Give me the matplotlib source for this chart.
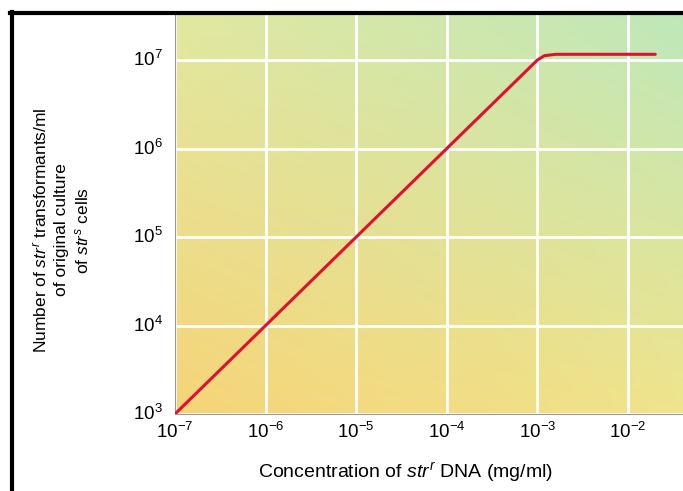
import numpy as np
import matplotlib
matplotlib.use('Agg')
import matplotlib.pyplot as plt
from matplotlib.lines import Line2D

plt.rcParams['font.family'] = ['Liberation Sans', 'DejaVu Sans']
plt.rcParams['mathtext.fontset'] = 'custom'
plt.rcParams['mathtext.rm'] = 'Liberation Sans'
plt.rcParams['mathtext.it'] = 'Liberation Sans:italic'

# concentration of str^r DNA (mg/ml) and transformants/ml
conc = [1e-7, 1e-6, 1e-5, 1e-4, 5e-4, 8e-4, 1.0e-3, 1.2e-3, 1.6e-3, 2e-2]
transf = [1e3, 1e4, 1e5, 1e6, 5e6, 8e6, 1.0e7, 1.12e7, 1.16e7, 1.16e7]

xticks = [1e-7, 1e-6, 1e-5, 1e-4, 1e-3, 1e-2]
xticklabels = ['$10^{-7}$', '$10^{-6}$', '$10^{-5}$', '$10^{-4}$', '$10^{-3}$', '$10^{-2}$']
yticks = [1e3, 1e4, 1e5, 1e6, 1e7]
yticklabels = ['$10^{3}$', '$10^{4}$', '$10^{5}$', '$10^{6}$', '$10^{7}$']

fig = plt.figure(figsize=(6.83, 4.91), dpi=100)
ax = fig.add_axes([175/683, 77/491, 508/683, 400/491])

# background gradient: corners (bottom-left, bottom-right, top-left, top-right)
bl = np.array([246, 212, 120]) / 255
br = np.array([240, 228, 140]) / 255
tl = np.array([226, 232, 160]) / 255
tr = np.array([190, 232, 186]) / 255
u = np.linspace(0, 1, 200)[None, :, None]
v = np.linspace(0, 1, 200)[:, None, None]
img = (1 - u) * (1 - v) * bl + u * (1 - v) * br + (1 - u) * v * tl + u * v * tr
ax.imshow(img, extent=[0, 1, 0, 1], transform=ax.transAxes, origin='lower',
          aspect='auto', zorder=0)

ax.set_xscale('log')
ax.set_yscale('log')
ax.set_xlim(1e-7, 10**(-7 + 508/90.6))
ax.set_ylim(1e3, 10**(3 + 400/88.5))

ax.set_xticks(xticks)
ax.set_xticklabels(xticklabels, fontsize=13.5)
ax.set_yticks(yticks)
ax.set_yticklabels(yticklabels, fontsize=13.5)
ax.minorticks_off()
ax.tick_params(axis='x', length=0, pad=6)
ax.tick_params(axis='y', length=0, pad=9)
for t in ax.get_yticklabels():
    t.set_va('center')
ax.grid(True, color='white', linewidth=2, zorder=1)

ax.plot(conc, transf, color='#e01030', linewidth=2.2, solid_capstyle='round', zorder=3)

for s in ['top', 'right']:
    ax.spines[s].set_visible(False)
for s in ['left', 'bottom']:
    ax.spines[s].set_color('#999999')
    ax.spines[s].set_linewidth(0.8)

fig.text(62/683, 1 - 230/491,
         'Number of $str^r$ transformants/ml\nof original culture\nof $str^s$ cells',
         rotation=90, ha='center', va='center', fontsize=12.5, linespacing=1.3)
fig.text(406/683, 1 - 472/491, 'Concentration of $str^r$ DNA (mg/ml)',
         ha='center', va='center', fontsize=14)

# black frame at top and left
fig.add_artist(Line2D([10/683, 1], [1 - 13/491, 1 - 13/491], color='black', linewidth=3,
                      transform=fig.transFigure))
fig.add_artist(Line2D([12/683, 12/683], [0, 1 - 12/491], color='black', linewidth=3,
                      transform=fig.transFigure))

fig.savefig('out.png', dpi=100)
